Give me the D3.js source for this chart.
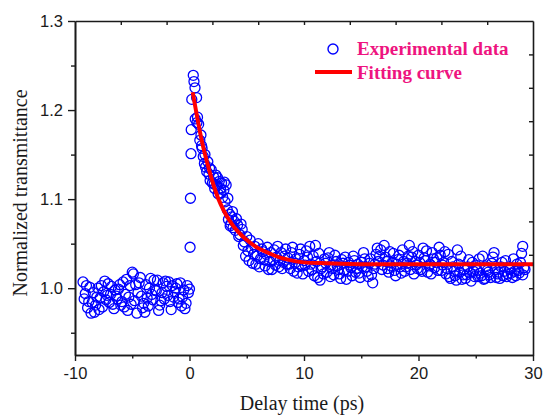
<!DOCTYPE html>
<html>
<head>
<meta charset="utf-8">
<script src="https://cdn.jsdelivr.net/npm/d3@7"></script>
<style>
  html, body { margin: 0; padding: 0; background: #fff; }
  svg { display: block; }
</style>
</head>
<body>
<svg id="chart"></svg>
<script>
// delay time (ps) and normalized transmittance
const preZero = [
  [-9.3, 1.007], [-9.1, 0.994], [-8.9, 0.978], [-8.7, 1.001], [-8.5, 0.984],
  [-8.3, 0.973], [-8.1, 0.990], [-7.9, 0.976], [-7.7, 1.003], [-7.5, 0.996],
  [-7.3, 0.987], [-7.1, 1.005], [-6.9, 0.993], [-6.7, 0.982], [-6.5, 0.998],
  [-6.3, 0.988], [-6.1, 1.004], [-5.9, 0.985], [-5.7, 0.979], [-5.5, 1.010],
  [-5.3, 0.990], [-5.1, 0.982], [-4.9, 1.016], [-4.7, 1.004], [-4.5, 0.995],
  [-4.3, 1.012], [-4.1, 0.978], [-3.9, 0.973], [-3.7, 0.989], [-3.5, 1.000],
  [-3.3, 0.993], [-3.1, 1.009], [-2.9, 0.997], [-2.7, 0.975], [-2.5, 0.986],
  [-2.3, 1.006], [-2.1, 1.008], [-1.9, 0.992], [-1.7, 0.985], [-1.5, 1.003],
  [-1.3, 0.996], [-1.1, 1.005], [-0.9, 0.988], [-0.7, 0.980], [-0.5, 0.998],
  [-0.3, 0.983], [-0.1, 0.995],
  [-9.2, 0.988], [-9.0, 1.003], [-8.8, 0.985], [-8.6, 0.972], [-8.4, 0.995],
  [-8.2, 0.981], [-8.0, 1.000], [-7.8, 0.989], [-7.6, 0.979], [-7.4, 1.008],
  [-7.2, 0.992], [-7.0, 0.984], [-6.8, 1.002], [-6.6, 0.977], [-6.4, 0.991],
  [-6.2, 0.999], [-6.0, 0.981], [-5.8, 1.007], [-5.6, 0.993], [-5.4, 0.975],
  [-5.2, 1.003], [-5.0, 1.018], [-4.8, 0.986], [-4.6, 0.972], [-4.4, 1.006],
  [-4.2, 0.991], [-4.0, 0.983], [-3.8, 1.004], [-3.6, 0.980], [-3.4, 1.011],
  [-3.2, 0.987], [-3.0, 0.998], [-2.8, 1.009], [-2.6, 0.981], [-2.4, 0.995],
  [-2.2, 0.988], [-2.0, 1.002], [-1.8, 1.007], [-1.6, 0.976], [-1.4, 0.990],
  [-1.2, 1.000], [-1.0, 0.984], [-0.8, 1.006], [-0.6, 0.990], [-0.4, 0.977],
  [-0.2, 1.003]
];

const peak = [
  [0.0, 0.999], [0.05, 1.046], [0.08, 1.101], [0.13, 1.151], [0.15, 1.178],
  [0.2, 1.212], [0.33, 1.239], [0.39, 1.232], [0.48, 1.225], [0.62, 1.214],
  [0.5, 1.190], [0.65, 1.186]
];

const decay = [
  [0.7, 1.192], [0.8, 1.184], [0.9, 1.166], [1.0, 1.172], [1.1, 1.157],
  [1.2, 1.148], [1.3, 1.140], [1.4, 1.136], [1.5, 1.131], [1.6, 1.142],
  [1.7, 1.128], [1.8, 1.121], [1.9, 1.133], [2.0, 1.118], [2.1, 1.125],
  [2.2, 1.112], [2.3, 1.127], [2.4, 1.115], [2.5, 1.106], [2.6, 1.120],
  [2.7, 1.112], [2.8, 1.118], [2.9, 1.102], [3.0, 1.110], [3.1, 1.097],
  [3.2, 1.116], [3.3, 1.088], [3.4, 1.077], [3.5, 1.083], [3.6, 1.072],
  [3.7, 1.080], [3.8, 1.068], [3.9, 1.075], [4.0, 1.065], [4.2, 1.071],
  [4.4, 1.060], [4.6, 1.066], [4.8, 1.052], [4.9, 1.036], [5.0, 1.058],
  [5.2, 1.031], [5.4, 1.045], [5.6, 1.038], [5.8, 1.027], [6.0, 1.050],
  [6.2, 1.033], [6.4, 1.041], [6.6, 1.025], [6.8, 1.046], [7.0, 1.030],
  [7.2, 1.021], [7.4, 1.043], [7.6, 1.035], [7.8, 1.024], [8.0, 1.040],
  [8.2, 1.029], [8.4, 1.044],
  [1.05, 1.160], [1.35, 1.150], [1.75, 1.135], [2.15, 1.117], [2.45, 1.124],
  [2.75, 1.107], [3.05, 1.119], [3.35, 1.101], [3.55, 1.070], [3.75, 1.086],
  [4.1, 1.078], [4.3, 1.058], [4.5, 1.072], [4.7, 1.048], [5.1, 1.042],
  [5.3, 1.054], [5.5, 1.028], [5.7, 1.047], [5.9, 1.036], [6.1, 1.024],
  [6.3, 1.044], [6.5, 1.032], [6.7, 1.038], [6.9, 1.021], [7.1, 1.040],
  [7.3, 1.032], [7.5, 1.026], [7.7, 1.047], [7.9, 1.031], [8.1, 1.022],
  [8.3, 1.036], [8.5, 1.027]
];

const plateau = [
  [8.6, 1.034], [8.8, 1.022], [9.0, 1.046], [9.2, 1.028], [9.4, 1.017],
  [9.6, 1.038], [9.8, 1.025], [10.0, 1.031], [10.2, 1.042], [10.4, 1.019],
  [10.6, 1.027], [10.8, 1.036], [11.0, 1.048], [11.2, 1.012], [11.4, 1.009],
  [11.6, 1.024], [11.8, 1.033], [12.0, 1.018], [12.2, 1.040], [12.4, 1.026],
  [12.6, 1.015], [12.8, 1.030], [13.0, 1.021], [13.2, 1.011], [13.4, 1.028],
  [13.6, 1.035], [13.8, 1.019], [14.0, 1.026], [14.2, 1.014], [14.4, 1.031],
  [14.6, 1.022], [14.8, 1.017], [15.0, 1.029], [15.2, 1.040], [15.4, 1.024],
  [15.6, 1.013], [15.8, 1.033], [16.0, 1.006], [16.2, 1.027], [16.4, 1.045],
  [16.6, 1.036], [16.8, 1.021], [17.0, 1.048], [17.2, 1.030], [17.4, 1.018],
  [17.6, 1.025], [17.8, 1.039], [18.0, 1.014], [18.2, 1.032], [18.4, 1.024],
  [18.6, 1.043], [18.8, 1.019], [19.0, 1.028], [19.2, 1.048], [19.4, 1.035],
  [19.6, 1.016], [19.8, 1.026], [20.0, 1.037], [20.2, 1.021], [20.4, 1.045],
  [20.6, 1.031], [20.8, 1.018], [21.0, 1.027], [21.2, 1.040], [21.4, 1.023],
  [21.6, 1.034], [21.8, 1.046], [22.0, 1.020], [22.2, 1.029], [22.4, 1.016],
  [22.6, 1.038], [22.8, 1.011], [23.0, 1.024], [23.2, 1.014], [23.4, 1.043],
  [23.6, 1.018], [23.8, 1.010], [24.0, 1.021], [24.2, 1.015], [24.4, 1.032],
  [24.6, 1.008], [24.8, 1.019], [25.0, 1.026], [25.2, 1.013], [25.4, 1.017],
  [25.6, 1.036], [25.8, 1.011], [26.0, 1.020], [26.2, 1.015], [26.4, 1.028],
  [26.6, 1.040], [26.8, 1.012], [27.0, 1.018], [27.2, 1.024], [27.4, 1.014],
  [27.6, 1.031], [27.8, 1.016], [28.0, 1.021], [28.2, 1.012], [28.4, 1.019],
  [28.6, 1.027], [28.8, 1.017], [29.0, 1.039], [29.1, 1.047], [29.2, 1.023],
  [8.7, 1.027], [8.9, 1.040], [9.1, 1.019], [9.3, 1.033], [9.5, 1.024],
  [9.7, 1.044], [9.9, 1.016], [10.1, 1.026], [10.3, 1.035], [10.5, 1.047],
  [10.7, 1.021], [10.9, 1.014], [11.1, 1.030], [11.3, 1.039], [11.5, 1.022],
  [11.7, 1.016], [11.9, 1.028], [12.1, 1.034], [12.3, 1.013], [12.5, 1.022],
  [12.7, 1.037], [12.9, 1.025], [13.1, 1.016], [13.3, 1.032], [13.5, 1.020],
  [13.7, 1.010], [13.9, 1.029], [14.1, 1.023], [14.3, 1.036], [14.5, 1.018],
  [14.7, 1.027], [14.9, 1.012], [15.1, 1.024], [15.3, 1.033], [15.5, 1.019],
  [15.7, 1.028], [15.9, 1.015], [16.1, 1.022], [16.3, 1.038], [16.5, 1.030],
  [16.7, 1.043], [16.9, 1.026], [17.1, 1.035], [17.3, 1.022], [17.5, 1.041],
  [17.7, 1.029], [17.9, 1.020], [18.1, 1.027], [18.3, 1.037], [18.5, 1.017],
  [18.7, 1.030], [18.9, 1.024], [19.1, 1.036], [19.3, 1.021], [19.5, 1.041],
  [19.7, 1.030], [19.9, 1.022], [20.1, 1.029], [20.3, 1.019], [20.5, 1.034],
  [20.7, 1.042], [20.9, 1.025], [21.1, 1.016], [21.3, 1.033], [21.5, 1.029],
  [21.7, 1.020], [21.9, 1.037], [22.1, 1.026], [22.3, 1.041], [22.5, 1.022],
  [22.7, 1.013], [22.9, 1.030], [23.1, 1.019], [23.3, 1.009], [23.5, 1.027],
  [23.7, 1.036], [23.9, 1.015], [24.1, 1.011], [24.3, 1.024], [24.5, 1.017],
  [24.7, 1.029], [24.9, 1.013], [25.1, 1.020], [25.3, 1.033], [25.5, 1.014],
  [25.7, 1.010], [25.9, 1.024], [26.1, 1.018], [26.3, 1.012], [26.5, 1.035],
  [26.7, 1.021], [26.9, 1.016], [27.1, 1.011], [27.3, 1.029], [27.5, 1.019],
  [27.7, 1.013], [27.9, 1.024], [28.1, 1.017], [28.3, 1.033], [28.5, 1.014],
  [28.7, 1.020], [28.9, 1.029], [29.1, 1.015], [29.3, 1.021]
];

// fitting curve, read at points along the red line
const fitCurve = [
  [0.28, 1.220], [0.6, 1.197], [1.0, 1.170], [1.5, 1.143], [2.0, 1.120],
  [2.5, 1.101], [3.0, 1.087], [3.5, 1.076], [4.0, 1.067], [4.5, 1.060],
  [5.0, 1.054], [6.0, 1.045], [7.0, 1.039], [8.0, 1.034], [9.0, 1.031],
  [10, 1.029], [12, 1.028], [15, 1.027], [30, 1.027]
];

const xMajor = [-10, 0, 10, 20, 30];
const xMinor = [-5, 5, 15, 25];
const yMajor = [1.0, 1.1, 1.2, 1.3];
const yMinor = [0.95, 1.05, 1.15, 1.25];
const topTicks = [-6, -2, 2, 6, 10, 14, 18, 22, 26];
const rightTicks = [0.9625, 1.0, 1.0375, 1.075, 1.1125, 1.15, 1.1875, 1.225, 1.2625];

const W = 544, H = 415;
const m = { left: 75, right: 533, top: 21, bottom: 355 };

const svg = d3.select('#chart').attr('width', W).attr('height', H);

const x = d3.scaleLinear().domain([-10, 30]).range([m.left, m.right]);
const y = d3.scaleLinear().domain([0.925, 1.3]).range([m.bottom, m.top]);

const points = preZero.concat(peak, decay, plateau);

// scatter
svg.append('g')
  .selectAll('circle')
  .data(points)
  .enter()
  .append('circle')
  .attr('cx', d => x(d[0]))
  .attr('cy', d => y(d[1]))
  .attr('r', 5)
  .attr('fill', 'none')
  .attr('stroke', '#0000ff')
  .attr('stroke-width', 1.3);

// fit line on top
const line = d3.line()
  .x(d => x(d[0]))
  .y(d => y(d[1]))
  .curve(d3.curveMonotoneX);

svg.append('path')
  .datum(fitCurve)
  .attr('d', line)
  .attr('fill', 'none')
  .attr('stroke', '#ff0000')
  .attr('stroke-width', 4);

// axes
const axisColor = '#1a1a1a';
const fmt = d => String(d);

function styleAxis(g) {
  g.select('.domain').attr('stroke', axisColor).attr('stroke-width', 1.6);
  g.selectAll('.tick line').attr('stroke', axisColor).attr('stroke-width', 1.4);
  g.selectAll('.tick text')
    .attr('fill', '#1a1a1a')
    .style('font-family', '"Liberation Sans", Arial, sans-serif')
    .style('font-size', '16.5px');
}

svg.append('g')
  .attr('transform', `translate(0,${m.bottom})`)
  .call(d3.axisBottom(x).tickValues(xMajor).tickSize(6).tickPadding(6).tickFormat(fmt).tickSizeOuter(0))
  .call(styleAxis);
svg.append('g')
  .attr('transform', `translate(0,${m.bottom})`)
  .call(d3.axisBottom(x).tickValues(xMinor).tickSize(3.5).tickFormat('').tickSizeOuter(0))
  .call(styleAxis);

svg.append('g')
  .attr('transform', `translate(${m.left},0)`)
  .call(d3.axisLeft(y).tickValues(yMajor).tickSize(7).tickPadding(5).tickFormat(d3.format('.1f')).tickSizeOuter(0))
  .call(styleAxis);
svg.append('g')
  .attr('transform', `translate(${m.left},0)`)
  .call(d3.axisLeft(y).tickValues(yMinor).tickSize(4).tickFormat('').tickSizeOuter(0))
  .call(styleAxis);

svg.append('g')
  .attr('transform', `translate(0,${m.top})`)
  .call(d3.axisTop(x).tickValues(topTicks).tickSize(-4).tickFormat('').tickSizeOuter(0))
  .call(styleAxis);

svg.append('g')
  .attr('transform', `translate(${m.right},0)`)
  .call(d3.axisRight(y).tickValues(rightTicks).tickSize(-4).tickFormat('').tickSizeOuter(0))
  .call(styleAxis);

// axis titles
svg.append('text')
  .attr('x', (m.left + m.right) / 2 - 2)
  .attr('y', 410)
  .attr('text-anchor', 'middle')
  .style('font-family', '"Liberation Serif", "Times New Roman", serif')
  .style('font-size', '20px')
  .attr('fill', '#1a1a1a')
  .text('Delay time (ps)');

svg.append('text')
  .attr('transform', `translate(27,${(m.top + m.bottom) / 2 + 5}) rotate(-90)`)
  .attr('text-anchor', 'middle')
  .style('font-family', '"Liberation Serif", "Times New Roman", serif')
  .style('font-size', '20px')
  .attr('fill', '#1a1a1a')
  .text('Normalized transmittance');

// legend
const pink = '#ee1480';
const legend = svg.append('g');
legend.append('circle')
  .attr('cx', 333).attr('cy', 49).attr('r', 5)
  .attr('fill', 'none').attr('stroke', '#0000ff').attr('stroke-width', 1.4);
legend.append('line')
  .attr('x1', 315).attr('x2', 352).attr('y1', 72).attr('y2', 72)
  .attr('stroke', '#ff0000').attr('stroke-width', 4);
legend.selectAll('text.lab')
  .data(['Experimental data', 'Fitting curve'])
  .enter()
  .append('text')
  .attr('class', 'lab')
  .attr('x', 357)
  .attr('y', (d, i) => 54.5 + i * 24)
  .style('font-family', '"Liberation Serif", "Times New Roman", serif')
  .style('font-weight', 'bold')
  .style('font-size', '19px')
  .attr('fill', pink)
  .text(d => d);
</script>
</body>
</html>
